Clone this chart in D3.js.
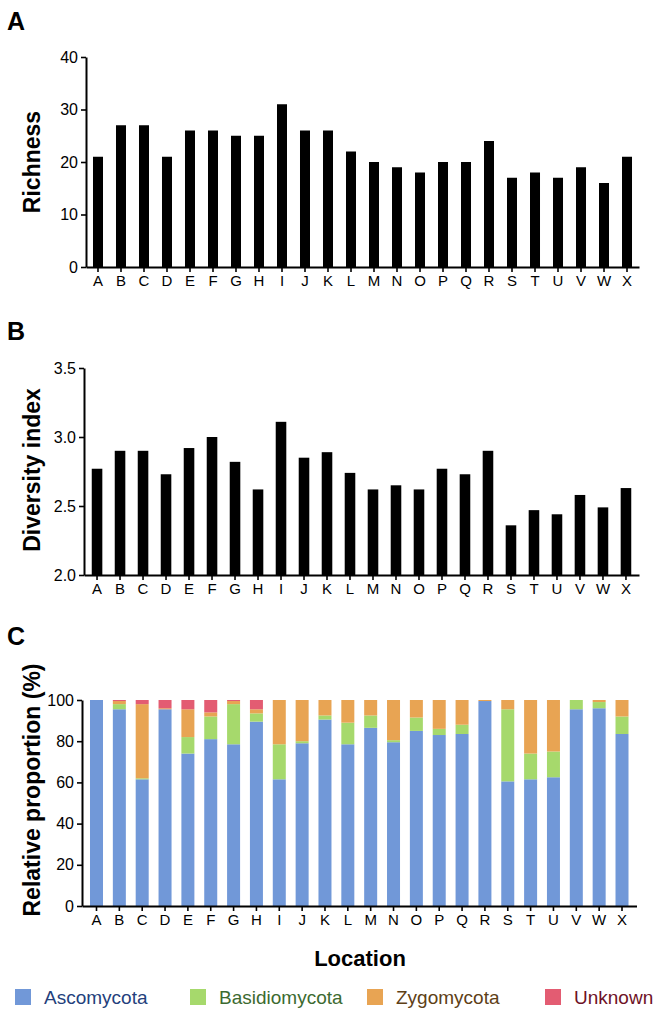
<!DOCTYPE html>
<html>
<head>
<meta charset="utf-8">
<script src="https://cdn.jsdelivr.net/npm/d3@7/dist/d3.min.js"></script>
<style>
html,body{margin:0;padding:0;background:#fff;}
svg{display:block;}
</style>
</head>
<body>
<svg id="chart" width="666" height="1016"></svg>
<script>
// ---------- data ----------
const locations = ["A","B","C","D","E","F","G","H","I","J","K","L","M","N","O","P","Q","R","S","T","U","V","W","X"];
const richness = [21,27,27,21,26,26,25,25,31,26,26,22,20,19,18,20,20,24,17,18,17,19,16,21];
const diversity = [2.77,2.90,2.90,2.73,2.92,3.00,2.82,2.62,3.11,2.85,2.89,2.74,2.62,2.65,2.62,2.77,2.73,2.90,2.36,2.47,2.44,2.58,2.49,2.63];
const phyla = ["Ascomycota","Basidiomycota","Zygomycota","Unknown"];
const ascomycota    = [100,95.5,61.5,95.5,74,81,78.5,89.5,61.5,79,90.5,78.5,86.5,79.5,85,83,83.5,99.5,60.5,61.5,62.5,95.5,96,83.5];
const basidiomycota = [0,2.5,0.5,0,8,11,19.5,4,17,1,2,10.5,6,1,6.5,3,4.5,0,35,12.5,12.5,4.5,3,8.5];
const zygomycota    = [0,1.5,36,0.5,13.5,2,1.5,2,21.5,20,7.5,11,7.5,19.5,8.5,14,12,0.5,4.5,26,25,0,1,8];
const unknown       = [0,0.5,2,4,4.5,6,0.5,4.5,0,0,0,0,0,0,0,0,0,0,0,0,0,0,0,0];
const richTicks = [0,10,20,30,40];
const divTicks = [2.0,2.5,3.0,3.5];
const propTicks = [0,20,40,60,80,100];

// ---------- style ----------
const phylaColors = ["#7198d8","#a6d96c","#e8a453","#e35c72"];
const legendTextColors = ["#243f7c","#3c6a30","#5e4016","#6e1226"];
const tickFont = "'Liberation Sans',Arial,sans-serif";
const boldFont = "'Liberation Sans',Arial,Helvetica,sans-serif";

const svg = d3.select("#chart");

function drawAxes(g, x, y, ticks, fmt, x0, y0, y1) {
  const xa = g.append("g").attr("transform", `translate(0,${y0})`)
    .call(d3.axisBottom(x).tickSizeOuter(0).tickSizeInner(5).tickPadding(3));
  xa.select(".domain").attr("stroke-width", 2);
  xa.selectAll(".tick line").attr("stroke-width", 1.6);
  xa.selectAll("text").attr("font-family", tickFont).attr("font-size", 15).attr("fill", "#000");
  const ya = g.append("g").attr("transform", `translate(${x0},0)`)
    .call(d3.axisLeft(y).tickValues(ticks).tickFormat(fmt).tickSizeOuter(0).tickSizeInner(5).tickPadding(3));
  ya.select(".domain").attr("stroke-width", 2);
  ya.selectAll(".tick line").attr("stroke-width", 1.6);
  ya.selectAll("text").attr("font-family", tickFont).attr("font-size", 16).attr("fill", "#000");
}

function panelLetter(txt, yb) {
  svg.append("text").attr("x", 7).attr("y", yb).text(txt)
    .attr("font-family", boldFont).attr("font-weight", "bold").attr("font-size", 25).attr("fill", "#000");
}
function yLabel(txt, cx, cy, size) {
  svg.append("text").attr("transform", `translate(${cx},${cy}) rotate(-90)`)
    .attr("text-anchor", "middle").text(txt)
    .attr("font-family", boldFont).attr("font-weight", "bold").attr("font-size", size).attr("fill", "#000");
}

// ---------- Panel A ----------
{
  const x = d3.scaleBand().domain(locations).range([86, 639]).paddingInner(0.565).paddingOuter(0.304);
  const y = d3.scaleLinear().domain([0, 40]).range([267, 57]);
  const g = svg.append("g");
  g.selectAll("rect").data(locations).join("rect")
    .attr("x", d => x(d)).attr("width", x.bandwidth())
    .attr("y", (d, i) => y(richness[i])).attr("height", (d, i) => y(0) - y(richness[i]))
    .attr("fill", "#000");
  drawAxes(g, x, y, richTicks, d3.format("d"), 86, 267, 57);
  panelLetter("A", 30);
  yLabel("Richness", 40, 162, 23);
}

// ---------- Panel B ----------
{
  const x = d3.scaleBand().domain(locations).range([84, 639]).paddingInner(0.54).paddingOuter(0.337);
  const y = d3.scaleLinear().domain([2.0, 3.5]).range([575, 368]);
  const g = svg.append("g");
  g.selectAll("rect").data(locations).join("rect")
    .attr("x", d => x(d)).attr("width", x.bandwidth())
    .attr("y", (d, i) => y(diversity[i])).attr("height", (d, i) => y(2.0) - y(diversity[i]))
    .attr("fill", "#000");
  drawAxes(g, x, y, divTicks, d3.format(".1f"), 84, 575, 368);
  panelLetter("B", 340);
  yLabel("Diversity index", 40, 470, 23);
}

// ---------- Panel C ----------
{
  const x = d3.scaleBand().domain(locations).range([82, 636.5]).paddingInner(0.431).paddingOuter(0.35);
  const y = d3.scaleLinear().domain([0, 100]).range([906, 700]);
  const rows = locations.map((loc, i) => ({
    loc,
    Ascomycota: ascomycota[i], Basidiomycota: basidiomycota[i],
    Zygomycota: zygomycota[i], Unknown: unknown[i]
  }));
  const stack = d3.stack().keys(phyla)(rows);
  const g = svg.append("g");
  g.selectAll("g.layer").data(stack).join("g").attr("class", "layer")
    .attr("fill", (d, i) => phylaColors[i])
    .selectAll("rect").data(d => d).join("rect")
    .attr("x", d => x(d.data.loc)).attr("width", x.bandwidth())
    .attr("y", d => y(d[1])).attr("height", d => y(d[0]) - y(d[1]));
  drawAxes(g, x, y, propTicks, d3.format("d"), 82, 906, 700);
  panelLetter("C", 645);
  yLabel("Relative proportion (%)", 40, 790, 23);
  svg.append("text").attr("x", 360).attr("y", 966).attr("text-anchor", "middle")
    .text("Location").attr("font-family", boldFont).attr("font-weight", "bold")
    .attr("font-size", 22).attr("fill", "#000");

  // legend
  const legX = [15, 190, 367, 545];
  const leg = svg.append("g");
  phyla.forEach((p, i) => {
    leg.append("rect").attr("x", legX[i]).attr("y", 989).attr("width", 16).attr("height", 16)
      .attr("fill", phylaColors[i]);
    leg.append("text").attr("x", legX[i] + 29).attr("y", 1004).text(p)
      .attr("font-family", tickFont).attr("font-size", 19).attr("fill", legendTextColors[i]);
  });
}
</script>
</body>
</html>
